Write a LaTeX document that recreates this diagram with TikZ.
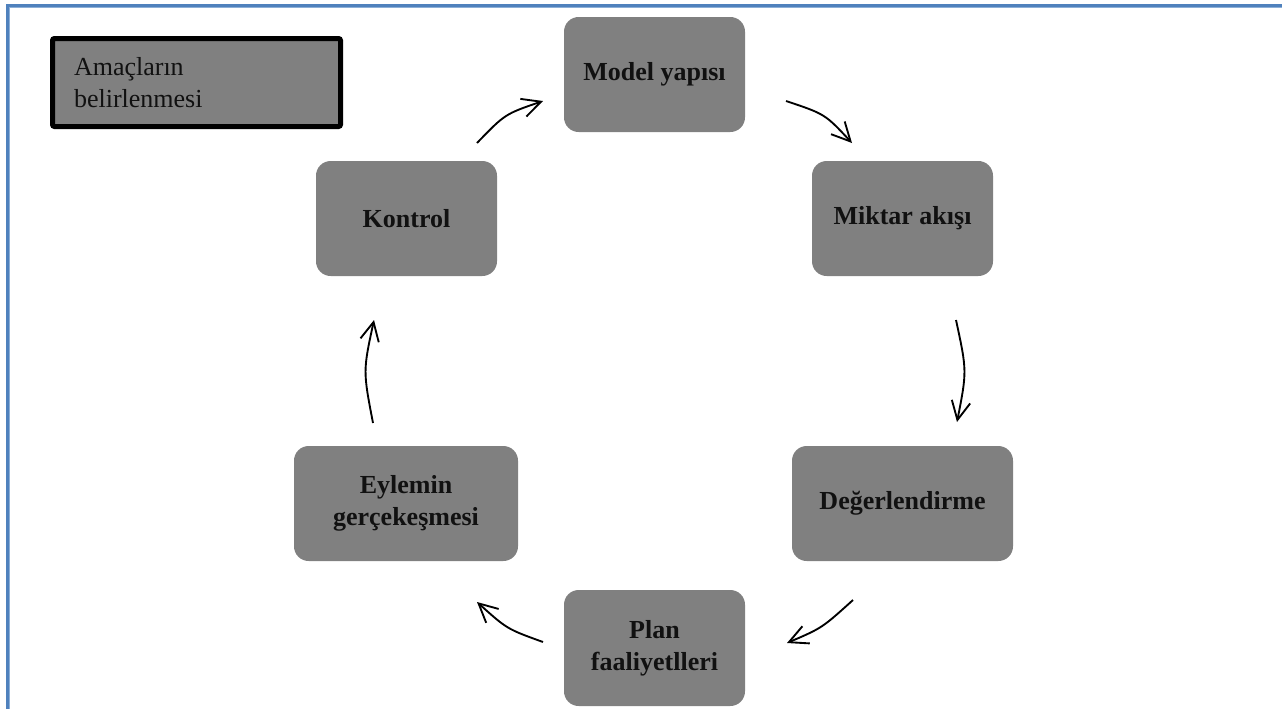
\documentclass[tikz,border=0pt]{standalone}
\usepackage{fontspec}
\setmainfont{Liberation Serif}
\usetikzlibrary{arrows.meta}
\definecolor{framecol}{RGB}{79,129,189}
\definecolor{framelight}{RGB}{140,175,215}
\definecolor{boxgray}{RGB}{128,128,128}
\definecolor{txt}{RGB}{17,17,17}
\begin{document}
\begin{tikzpicture}[x=0.75pt,y=-0.75pt,
  cyc/.style={fill=boxgray, draw=none, rounded corners=11pt, inner sep=0pt,
    minimum width=135.75pt, minimum height=86.25pt, align=center, text=txt,
    font=\bfseries\fontsize{19.5}{24}\selectfont},
  goalbox/.style={fill=boxgray, draw=black, line width=3.75pt, rounded corners=1.5pt,
    minimum width=216pt, minimum height=66pt, text width=183.75pt, inner xsep=16.125pt,
    inner ysep=0pt, align=left, text=txt, font=\fontsize{19.5}{24.5}\selectfont},
  arr/.style={draw=black, line width=1.4pt, -{Straight Barb[length=14pt,width=14pt,line width=1.4pt]}}]
\useasboundingbox (0,0) rectangle (1282,708);
\draw[framecol, line width=1.6pt] (7.5,712) -- (7.5,5.5) -- (1286,5.5);
\draw[framelight, line width=0.6pt] (9.6,712) -- (9.6,7.6) -- (1286,7.6);

\node[goalbox] (goal) at (196.5,82.5) {\raisebox{-2pt}{\parbox{183.75pt}{Amaçların\\belirlenmesi}}};

\node[cyc] (model) at (654.5,74.5) {Model yapısı};
\node[cyc] (kontrol) at (406.5,218.5) {Kontrol};
\node[cyc] (miktar) at (902.5,218.5) {Miktar akışı};
\node[cyc, minimum width=168pt] (eylem) at (406,503.5) {Eylemin\\gerçekeşmesi};
\node[cyc, minimum width=165.75pt] (deger) at (902.5,503.5) {Değerlendirme};
\node[cyc, minimum height=87pt] (plan) at (654.5,648) {Plan\\faaliyetlleri};

\coordinate (a1s) at (477,143); \coordinate (a1c) at (505,114); \coordinate (a1e) at (543,101);
\coordinate (a2s) at (786,101); \coordinate (a2c) at (825,114); \coordinate (a2e) at (852,143);
\coordinate (a3s) at (956,320); \coordinate (a3c) at (967,371); \coordinate (a3e) at (957,422);
\coordinate (a4s) at (853,600); \coordinate (a4c) at (822,628); \coordinate (a4e) at (787,643);
\coordinate (a5s) at (543,642); \coordinate (a5c) at (507,629); \coordinate (a5e) at (477,602);
\coordinate (a6s) at (373,423); \coordinate (a6c) at (363,371); \coordinate (a6e) at (374,320);

\draw[arr] (a1s) .. controls (a1c) .. (a1e);
\draw[arr] (a2s) .. controls (a2c) .. (a2e);
\draw[arr] (a3s) .. controls (a3c) .. (a3e);
\draw[arr] (a4s) .. controls (a4c) .. (a4e);
\draw[arr] (a5s) .. controls (a5c) .. (a5e);
\draw[arr] (a6s) .. controls (a6c) .. (a6e);
\end{tikzpicture}
\end{document}
